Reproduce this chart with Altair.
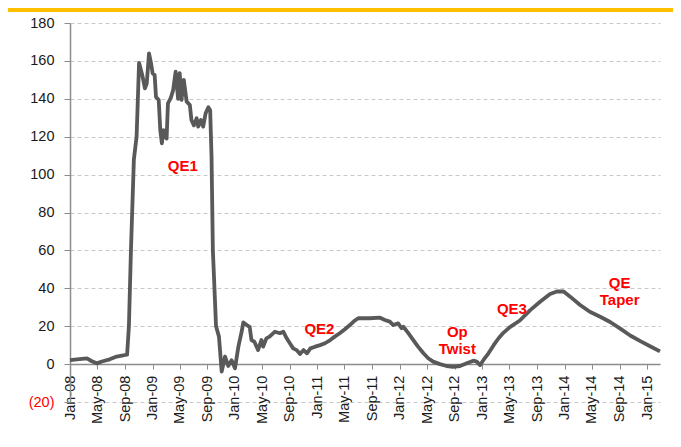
import altair as alt
import pandas as pd

dates = [
    "2008-01-01", "2008-02-01", "2008-03-16", "2008-04-07", "2008-04-28", "2008-05-25",
    "2008-06-25", "2008-07-26", "2008-08-18", "2008-09-01", "2008-09-10", "2008-09-18",
    "2008-09-27", "2008-10-10", "2008-10-22", "2008-11-02", "2008-11-16", "2008-11-28",
    "2008-12-06", "2008-12-16", "2008-12-25", "2009-01-01", "2009-01-10", "2009-01-16",
    "2009-01-28", "2009-02-04", "2009-02-11", "2009-02-18", "2009-02-25", "2009-03-04",
    "2009-03-10", "2009-03-22", "2009-04-02", "2009-04-13", "2009-04-24", "2009-05-01",
    "2009-05-09", "2009-05-19", "2009-06-01", "2009-06-15", "2009-06-22", "2009-07-03",
    "2009-07-15", "2009-07-22", "2009-08-03", "2009-08-13", "2009-08-24", "2009-09-05",
    "2009-09-13", "2009-09-19", "2009-09-25", "2009-10-09", "2009-10-22", "2009-11-03",
    "2009-11-18", "2009-12-02", "2009-12-17", "2010-01-01", "2010-01-16", "2010-02-01",
    "2010-02-07", "2010-02-22", "2010-03-07", "2010-03-15", "2010-03-28", "2010-04-13",
    "2010-04-28", "2010-05-06", "2010-05-20", "2010-06-03", "2010-06-27", "2010-07-19",
    "2010-08-03", "2010-08-18", "2010-09-01", "2010-09-16", "2010-10-01", "2010-10-16",
    "2010-11-01", "2010-11-16", "2010-12-01", "2010-12-22", "2011-01-13", "2011-02-04",
    "2011-02-27", "2011-03-19", "2011-04-10", "2011-05-03", "2011-05-25", "2011-06-15",
    "2011-07-01", "2011-07-22", "2011-08-21", "2011-10-06", "2011-10-27", "2011-11-18",
    "2011-12-03", "2011-12-25", "2012-01-09", "2012-01-17", "2012-02-08", "2012-03-01",
    "2012-03-22", "2012-04-15", "2012-05-06", "2012-05-28", "2012-06-27", "2012-07-27",
    "2012-08-25", "2012-09-24", "2012-10-24", "2012-11-22", "2012-12-07", "2012-12-22",
    "2013-01-06", "2013-01-28", "2013-02-20", "2013-03-13", "2013-04-04", "2013-05-03",
    "2013-06-16", "2013-08-01", "2013-09-15", "2013-10-28", "2013-11-27", "2013-12-27",
    "2014-01-25", "2014-03-10", "2014-04-22", "2014-06-07", "2014-07-21", "2014-09-04",
    "2014-10-18", "2014-12-02", "2015-01-16", "2015-02-27",
]
values = [
    2.1, 2.5, 3.0, 1.5, 0.4, 1.5,
    2.5, 4.0, 4.5, 4.8, 5.0, 20.0,
    60.0, 108.0, 120.0, 159.0, 152.6, 145.5,
    148.0, 164.0, 158.7, 153.5, 152.6, 141.0,
    139.4, 123.5, 116.5, 123.5, 120.0, 119.0,
    137.6, 140.3, 144.6, 154.3, 140.0, 153.5,
    139.4, 150.0, 138.5, 136.7, 128.8, 126.0,
    129.7, 125.3, 128.8, 125.3, 132.4, 135.5,
    134.0, 110.0, 60.0, 20.0, 14.5, -4.0,
    4.0, -1.0, 2.0, -2.2, 9.2, 18.0,
    22.0, 20.6, 19.7, 12.7, 11.8, 7.4,
    12.7, 9.2, 13.6, 14.5, 17.1, 16.3,
    17.1, 13.6, 11.0, 8.3, 7.4, 5.3,
    7.4, 5.7, 8.3, 9.2, 10.0, 11.0,
    12.7, 14.5, 16.3, 18.4, 20.6, 22.9,
    24.2, 24.2, 24.2, 24.5, 23.3, 22.4,
    20.6, 21.5, 18.9, 19.7, 16.3, 12.7,
    9.2, 5.7, 3.1, 1.3, 0.0, -1.0,
    -1.4, -1.0, 0.4, 1.8, 1.3, -0.5,
    2.2, 5.7, 10.0, 13.5, 16.5, 19.5,
    23.0, 28.5, 33.0, 37.0, 38.3, 38.3,
    35.6, 31.2, 27.6, 25.0, 22.2, 18.7,
    15.1, 12.1, 9.3, 6.7,
]

ann_text = ["QE1", "QE2", "Op\nTwist", "QE3", "QE\nTaper"]
ann_date = ["2009-05-15", "2011-01-10", "2012-09-12", "2013-05-12", "2014-09-01"]
ann_value = [104.7, 18.5, 17.1, 29.1, 43.0]

y_ticks = [-20, 0, 20, 40, 60, 80, 100, 120, 140, 160, 180]
x_tick_years = [2008, 2008, 2008, 2009, 2009, 2009, 2010, 2010, 2010, 2011, 2011, 2011,
                2012, 2012, 2012, 2013, 2013, 2013, 2014, 2014, 2014, 2015]
x_tick_months = [1, 5, 9] * 7 + [1]

df = pd.DataFrame({"date": dates, "value": values})
ann = pd.DataFrame({"text": ann_text, "date": ann_date, "value": ann_value})

FONT = "Liberation Sans"
W, H = 590, 379

x_scale = alt.Scale(domain=[alt.DateTime(year=2008, month=1, date=1),
                            alt.DateTime(year=2015, month=2, date=27)], nice=False)
y_scale = alt.Scale(domain=[-20, 180], nice=False, zero=False)

x_axis = alt.Axis(
    values=[alt.DateTime(year=y, month=m, date=1) for y, m in zip(x_tick_years, x_tick_months)],
    tickCount=40,
    format="%b-%y", labelAngle=270, labelAlign="right", labelBaseline="middle",
    labelFontSize=14.5, labelFont=FONT, labelColor="#1a1a1a", labelPadding=6,
    offset=-37.9, domainColor="#8c8c8c", domainWidth=1.5, tickColor="#8c8c8c",
    tickSize=5, grid=False, title=None, labelOverlap=False, labelFlush=False,
)
y_axis = alt.Axis(
    values=y_ticks,
    tickCount=20,
    labelExpr="datum.value < 0 ? '(' + abs(datum.value) + ')' : datum.value",
    labelColor=alt.condition("datum.value < 0", alt.value("#ff0000"), alt.value("#1a1a1a")),
    labelFontSize=14.5, labelFont=FONT, labelPadding=10, labelOverlap=False,
    domainColor="#8c8c8c", domainWidth=1.5, tickColor="#8c8c8c", tickSize=6,
    grid=True, gridColor="#c8c8c8", gridDash=[4, 3], gridWidth=1, title=None,
)

line = alt.Chart(df).mark_line(color="#595959", strokeWidth=3.8, strokeJoin="round").encode(
    x=alt.X("date:T", scale=x_scale, axis=x_axis),
    y=alt.Y("value:Q", scale=y_scale, axis=y_axis),
)

labels = alt.Chart(ann).mark_text(
    color="#ff0000", fontWeight="bold", fontSize=15, font=FONT, lineBreak="\n",
    lineHeight=17, align="center", baseline="middle",
).encode(
    x=alt.X("date:T", scale=x_scale),
    y=alt.Y("value:Q", scale=y_scale),
    text="text:N",
)

top_bar = alt.Chart(pd.DataFrame({"k": [0]})).mark_rule(
    color="#ffc000", strokeWidth=4, clip=False
).encode(
    x=alt.value(-62), x2=alt.value(W + 13), y=alt.value(-13),
)

chart = alt.layer(line, labels, top_bar).properties(
    width=W, height=H,
    autosize=alt.AutoSizeParams(type="none"),
    padding={"left": 62, "top": 15, "right": 13, "bottom": 37},
).configure_view(stroke=None)

chart.save("out.html", embed_options={"renderer": "svg", "actions": False})
